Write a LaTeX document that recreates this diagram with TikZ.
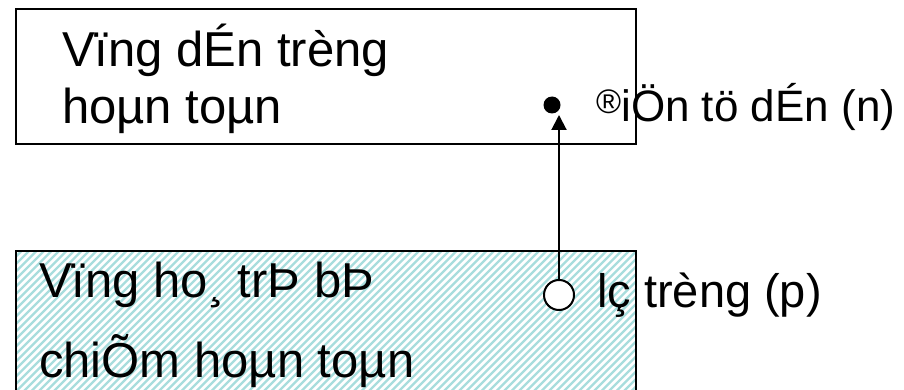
\documentclass[tikz,border=0pt]{standalone}
\usepackage{fontspec}
\setmainfont{Liberation Sans}
\usetikzlibrary{arrows.meta}
\definecolor{hatchcol}{RGB}{168,221,221}
\newcommand{\smallreg}{\raisebox{8pt}{\fontsize{34}{34}\selectfont ®}}
\begin{document}
\begin{tikzpicture}[x=1pt,y=-1pt,
  boxstyle/.style={draw=black,line width=2pt,inner sep=0pt,anchor=north west,minimum width=620pt},
  txt/.style={anchor=base west,inner sep=0pt,font=\fontsize{49}{58}\selectfont},
  side/.style={anchor=base west,inner sep=0pt,font=\fontsize{44}{56}\selectfont},
  hatchline/.style={draw=hatchcol,line width=2.4pt}]
\useasboundingbox (0,0) rectangle (904,390);
% hatched fill of the valence band
\begin{scope}
  \clip (15,250) rectangle (635,400);
  \foreach \i in {-30,...,95} \draw[hatchline] (\i*7.5,400) -- ++(170,-170);
\end{scope}
% boxes
\node (cb) [boxstyle,minimum height=135pt] at (15,8) {};
\node (vb) [boxstyle,minimum height=150pt] at (15,250) {};
% box texts
\node (cb1) [txt] at (62,67) {Vïng dÉn trèng};
\node (cb2) [txt] at (62,124) {hoµn toµn};
\node (vb1) [txt] at (39,297) {Vïng ho¸ trÞ bÞ};
\node (vb2) [txt] at (39,377) {chiÕm hoµn toµn};
% electron and hole
\node (el) [circle,fill=black,inner sep=0pt,minimum size=17pt] at (552,105) {};
\node (ho) [circle,draw=black,fill=white,line width=2pt,inner sep=0pt,minimum size=30pt] at (559,295) {};
\coordinate (tip) at (559,115);
\draw[line width=2pt,-{Triangle[length=15pt,width=15pt]}] (ho.north) -- (tip);
% side labels
\node (ell) [side] at (596,122) {\smallreg iÖn tö dÉn (n)};
\node (hol) [side,font=\fontsize{47}{56}\selectfont] at (597,307) {lç trèng (p)};
\end{tikzpicture}
\end{document}
